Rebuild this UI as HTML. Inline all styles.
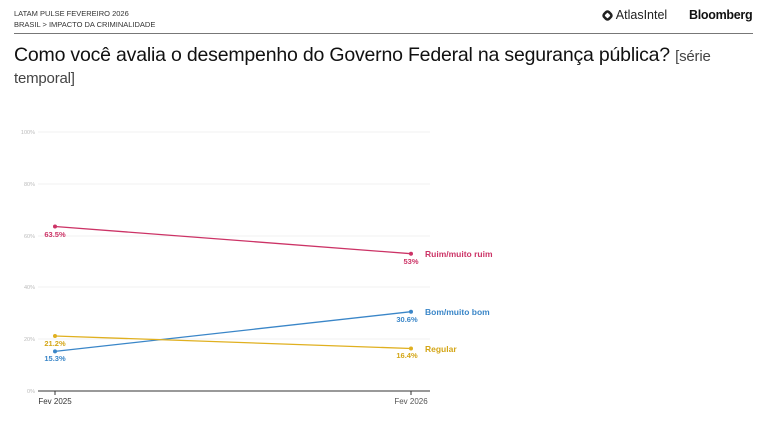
<!DOCTYPE html>
<html><head><meta charset="utf-8"><style>
body{margin:0;width:768px;height:428px;background:#fff;overflow:hidden;font-family:"Liberation Sans",sans-serif;position:relative}
.t{position:absolute;white-space:nowrap}
</style></head><body>
<div class="t" style="left:14px;top:8px;font-size:7.5px;color:#333;line-height:11px">LATAM PULSE FEVEREIRO 2026<br>BRASIL &gt; IMPACTO DA CRIMINALIDADE</div>
<div class="t" style="left:602px;top:8px;font-size:12.5px;color:#222"><span style="display:inline-block;width:11px;height:11px;border:3px solid #222;border-radius:4px;transform:rotate(45deg) scale(.85);vertical-align:-2px;box-sizing:border-box"></span> AtlasIntel</div>
<div class="t" style="left:689px;top:8px;font-size:12.5px;font-weight:bold;color:#111;letter-spacing:-0.3px">Bloomberg</div>
<div style="position:absolute;left:14px;top:33px;width:739px;height:1px;background:#777"></div>
<div class="t" style="left:14px;top:45px;font-size:19.5px;color:#111;line-height:21px;white-space:normal;width:720px;letter-spacing:-0.2px">Como você avalia o desempenho do Governo Federal na segurança pública? <span style="font-size:15px;color:#444">[série temporal]</span></div>
<svg width="768" height="428" style="position:absolute;left:0;top:0" font-family="Liberation Sans, sans-serif">
<g stroke="#f0f0f0" stroke-width="1">
<line x1="38" x2="430" y1="132" y2="132"/><line x1="38" x2="430" y1="184" y2="184"/><line x1="38" x2="430" y1="236" y2="236"/><line x1="38" x2="430" y1="287" y2="287"/><line x1="38" x2="430" y1="339" y2="339"/>
</g>
<g font-size="5.5" fill="#bbb" text-anchor="end">
<text x="35" y="134">100%</text><text x="35" y="186">80%</text><text x="35" y="238">60%</text><text x="35" y="289">40%</text><text x="35" y="341">20%</text><text x="35" y="393">0%</text>
</g>
<line x1="38" x2="430" y1="391" y2="391" stroke="#333" stroke-width="1"/>
<line x1="55" x2="55" y1="391" y2="395" stroke="#333"/><line x1="411" x2="411" y1="391" y2="395" stroke="#333"/>
<text x="55" y="404" font-size="8" fill="#333" text-anchor="middle">Fev 2025</text>
<text x="411" y="404" font-size="8" fill="#555" text-anchor="middle">Fev 2026</text>
<g stroke-width="1.3">
<line x1="55" y1="226.5" x2="411" y2="253.7" stroke="#cc3366"/>
<line x1="55" y1="351.4" x2="411" y2="311.7" stroke="#3a86c8"/>
<line x1="55" y1="336" x2="411" y2="348.5" stroke="#e0b020"/>
</g>
<g>
<circle cx="55" cy="226.5" r="2" fill="#cc3366"/><circle cx="411" cy="253.7" r="2" fill="#cc3366"/>
<circle cx="55" cy="351.4" r="2" fill="#3a86c8"/><circle cx="411" cy="311.7" r="2" fill="#3a86c8"/>
<circle cx="55" cy="336" r="2" fill="#e0b020"/><circle cx="411" cy="348.5" r="2" fill="#e0b020"/>
</g>
<g font-size="7.5" font-weight="bold" text-anchor="middle">
<text x="55" y="237" fill="#cc3366">63.5%</text>
<text x="55" y="346" fill="#d4a617">21.2%</text>
<text x="55" y="361" fill="#3a86c8">15.3%</text>
<text x="411" y="264" fill="#cc3366">53%</text>
<text x="407" y="322" fill="#3a86c8">30.6%</text>
<text x="407" y="358" fill="#d4a617">16.4%</text>
</g>
<g font-size="8.5" font-weight="bold">
<text x="425" y="257" fill="#cc3366">Ruim/muito ruim</text>
<text x="425" y="315" fill="#3a86c8">Bom/muito bom</text>
<text x="425" y="352" fill="#d4a617">Regular</text>
</g>
</svg>
</body></html>
